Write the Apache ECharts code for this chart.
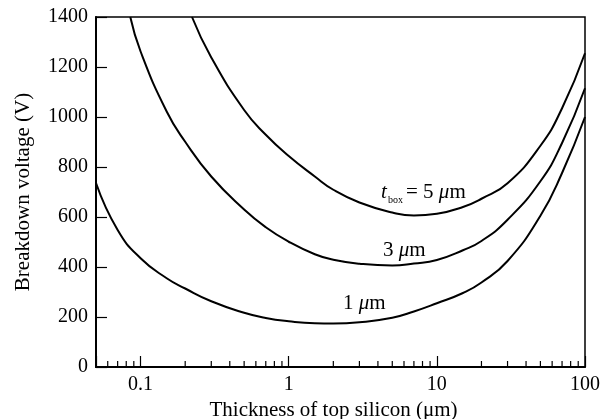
<!DOCTYPE html>
<html>
<head>
<meta charset="utf-8">
<script src="https://cdn.jsdelivr.net/npm/echarts@6/dist/echarts.min.js"></script>
<style>
  html, body { margin: 0; padding: 0; background: #fff; }
  #chart { width: 612px; height: 419px; }
</style>
</head>
<body>
<div id="chart"></div>
<script>
// thickness of top silicon (um) and breakdown voltage (V)
const thick1 = [0.05, 0.07, 0.1, 0.15, 0.2, 0.3, 0.5, 0.7, 1, 1.5, 2, 3, 5, 7, 10, 15, 20, 30, 50, 70, 100]
const volt1 = [736, 548, 435, 355, 314, 263, 217, 196, 183, 175, 174, 179, 197, 222, 255, 296, 338, 424, 605, 776, 1000]

const thick3 = [0.0852, 0.1, 0.15, 0.2, 0.3, 0.5, 0.7, 1, 1.5, 2, 3, 5, 7, 10, 15, 20, 30, 50, 70, 100]
const volt3 = [1400, 1262, 1022, 901, 762, 630, 559, 501, 451, 429, 413, 406, 414, 428, 467, 504, 589, 743, 896, 1115]

const thick5 = [0.2224, 0.3, 0.5, 0.7, 1, 1.5, 2, 3, 5, 7, 10, 15, 20, 30, 50, 70, 100]
const volt5 = [1400, 1238, 1028, 929, 844, 762, 709, 658, 618, 606, 613, 640, 673, 735, 885, 1035, 1255]

// minor ticks of the log axis
const minorTicks = [0.06, 0.07, 0.08, 0.09, 0.2, 0.3, 0.4, 0.5, 0.6, 0.7, 0.8, 0.9,
  2, 3, 4, 5, 6, 7, 8, 9, 20, 30, 40, 50, 60, 70, 80, 90]

const serif = 'Liberation Serif'
const pairs = (xs, ys) => xs.map((x, i) => [x, ys[i]])

const chart = echarts.init(document.getElementById('chart'))

const curve = (name, xs, ys) => ({
  name: name,
  type: 'line',
  data: pairs(xs, ys),
  smooth: 0.5,
  symbol: 'none',
  lineStyle: { color: '#000', width: 2 }
})

const muLabel = (x, y, head) => ({
  type: 'text', x: x, y: y,
  style: {
    text: '{n|' + head + '}{i|\u03bc}{n|m}', verticalAlign: 'middle', fill: '#000',
    rich: {
      n: { fontFamily: serif, fontSize: 21, color: '#000' },
      i: { fontFamily: serif, fontSize: 21, fontStyle: 'italic', color: '#000' }
    }
  }
})

const option = {
  animation: false,
  grid: {
    left: 96, right: 27, top: 17, bottom: 52,
    containLabel: false,
    outerBoundsMode: 'none',
    show: true, borderColor: '#000', borderWidth: 1.5
  },
  xAxis: {
    type: 'log',
    logBase: 10,
    min: 0.05,
    max: 100,
    name: 'Thickness of top silicon (\u03bcm)',
    nameLocation: 'middle',
    nameGap: 33,
    nameTextStyle: { fontFamily: serif, fontSize: 21, color: '#000', padding: [0, 14, 0, 0] },
    axisLine: { lineStyle: { color: '#000', width: 2 } },
    axisTick: { inside: true, length: 11, lineStyle: { color: '#000', width: 1.2 } },
    axisLabel: {
      fontFamily: serif, fontSize: 20, color: '#000', margin: 8,
      formatter: v => {
        const lg = Math.log10(v)
        return Math.abs(lg - Math.round(lg)) < 1e-6 ? String(+v.toPrecision(6)) : ''
      }
    },
    splitLine: { show: false }
  },
  yAxis: {
    type: 'value',
    min: 0,
    max: 1400,
    interval: 200,
    name: 'Breakdown voltage (V)',
    nameLocation: 'middle',
    nameGap: 62,
    nameTextStyle: { fontFamily: serif, fontSize: 21, color: '#000' },
    axisLine: { show: true, lineStyle: { color: '#000', width: 2 } },
    axisTick: { show: true, inside: true, length: 11, lineStyle: { color: '#000', width: 1.2 } },
    axisLabel: { fontFamily: serif, fontSize: 20, color: '#000', margin: 8, formatter: v => String(v) },
    splitLine: { show: false }
  },
  series: [
    curve('1 um', thick1, volt1),
    curve('3 um', thick3, volt3),
    curve('5 um', thick5, volt5),
    {
      type: 'custom',
      silent: true,
      data: minorTicks.map(v => [v, 0]),
      encode: { x: 0, y: 1 },
      renderItem: (params, api) => {
        const p = api.coord([api.value(0), 0])
        return {
          type: 'line',
          shape: { x1: p[0], y1: p[1], x2: p[0], y2: p[1] - 6 },
          style: { stroke: '#000', lineWidth: 1.2 }
        }
      }
    }
  ],
  graphic: [
    { type: 'text', x: 381, y: 192, style: { text: 't', font: 'italic 21px ' + serif, fill: '#000', verticalAlign: 'middle' } },
    { type: 'text', x: 388, y: 200, style: { text: 'box', font: '10px ' + serif, fill: '#000', verticalAlign: 'middle' } },
    muLabel(406, 192, '= 5 '),
    muLabel(383, 250, '3 '),
    muLabel(343, 303, '1 ')
  ]
}

chart.setOption(option)
</script>
</body>
</html>
